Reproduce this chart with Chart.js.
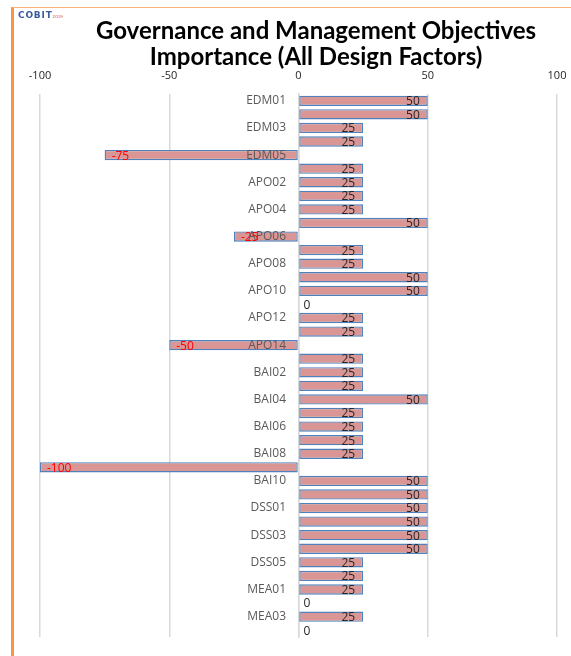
<!DOCTYPE html>
<html>
<head>
<meta charset="utf-8">
<script src="https://cdn.jsdelivr.net/npm/chart.js@4/dist/chart.umd.min.js"></script>
<style>
  html, body { margin: 0; padding: 0; background: #fff; overflow: hidden; width: 571px; height: 656px; }
  #frame { position: absolute; left: 11px; top: 7px; width: 640px; height: 680px;
           border-left: 3px solid #F79646; border-top: 1px solid #F9B27A; background: #fff; }
  #box { position: absolute; left: 1px; top: 0; width: 602px; height: 649px; }
  #logo { position: absolute; left: 4px; top: 2px; font: bold 9px "DejaVu Sans", sans-serif; color: #3A5BA0; letter-spacing: 0.8px; z-index: 2; }
  #logo span { color: #D05050; font-size: 4px; font-weight: normal; letter-spacing: 0; }
</style>
</head>
<body>
<div id="frame">
  <div id="logo">COBIT<span>2019</span></div>
  <div id="box"><canvas id="c"></canvas></div>
</div>
<script>
const categories = [
  "EDM01","EDM02","EDM03","EDM04","EDM05",
  "APO01","APO02","APO03","APO04","APO05","APO06","APO07","APO08","APO09","APO10","APO11","APO12","APO13","APO14",
  "BAI01","BAI02","BAI03","BAI04","BAI05","BAI06","BAI07","BAI08","BAI09","BAI10","BAI11",
  "DSS01","DSS02","DSS03","DSS04","DSS05","DSS06",
  "MEA01","MEA02","MEA03","MEA04"
];
const importance = [
  50, 50, 25, 25, -75,
  25, 25, 25, 25, 50, -25, 25, 25, 50, 50, 0, 25, 25, -50,
  25, 25, 25, 50, 25, 25, 25, 25, -100, 50, 50,
  50, 50, 50, 50, 25, 25,
  25, 0, 25, 0
];
const xTicks = [-100, -50, 0, 50, 100];
const titleLines = ["Governance and Management Objectives", "Importance (All Design Factors)"];

const FONT = '"Open Sans", Lato, sans-serif';

const valueLabels = {
  id: 'valueLabels',
  afterDatasetsDraw(chart) {
    const ctx = chart.ctx;
    const meta = chart.getDatasetMeta(0);
    ctx.save();
    ctx.font = '12px ' + FONT;
    ctx.textBaseline = 'middle';
    meta.data.forEach((bar, i) => {
      const v = importance[i];
      const y = bar.y + 1;
      if (v > 0) {
        ctx.fillStyle = '#262626';
        ctx.textAlign = 'right';
        ctx.fillText(String(v), bar.x - 8, y);
      } else if (v < 0) {
        ctx.fillStyle = '#FF0000';
        ctx.textAlign = 'left';
        ctx.fillText(String(v), bar.x + 7, y);
      } else {
        ctx.fillStyle = '#262626';
        ctx.textAlign = 'left';
        ctx.fillText('0', bar.x + 5, y);
      }
    });
    ctx.restore();
  }
};

function fixedWidth(w) { return function (axis) { axis.width = w; }; }

new Chart(document.getElementById('c'), {
  type: 'bar',
  data: {
    labels: categories,
    datasets: [{
      data: importance,
      backgroundColor: '#D99694',
      borderColor: '#4F81BD',
      borderWidth: 1.4,
      borderSkipped: false,
      categoryPercentage: 1.0,
      barPercentage: 0.76
    }]
  },
  options: {
    indexAxis: 'y',
    responsive: true,
    maintainAspectRatio: false,
    animation: false,
    layout: { padding: { left: 0, right: 0, top: 0, bottom: 20 } },
    plugins: {
      legend: { display: false },
      tooltip: { enabled: false },
      title: {
        display: true,
        text: titleLines,
        color: '#000',
        font: { family: 'Lato, "Open Sans", sans-serif', size: 24, weight: 'bold', lineHeight: 1.1 },
        padding: { top: 10, bottom: -14 }
      }
    },
    scales: {
      x: {
        position: 'top',
        min: -100, max: 100,
        afterBuildTicks(axis) { axis.ticks = xTicks.map(v => ({ value: v })); },
        grid: { color: '#D9D9D9', lineWidth: 1.5, drawTicks: false },
        border: { display: false },
        ticks: { color: '#262626', font: { family: FONT, size: 11 }, padding: 12, maxRotation: 0 }
      },
      y: {
        position: { x: 0 },
        grid: { display: false, drawTicks: false },
        border: { display: true, color: '#D9D9D9', width: 1.5 },
        ticks: {
          z: 1,
          autoSkip: false,
          color: '#595959',
          font: { family: FONT, size: 12 },
          callback(value, index) { return index % 2 === 0 ? categories[index] + '    ' : ''; }
        }
      },
      padL: {
        type: 'linear', position: 'left', display: true,
        grid: { display: false, drawTicks: false }, border: { display: false },
        ticks: { display: false },
        afterFit: fixedWidth(25)
      },
      padR: {
        type: 'linear', position: 'right', display: true,
        grid: { display: false, drawTicks: false }, border: { display: false },
        ticks: { display: false },
        afterFit: fixedWidth(60)
      }
    }
  },
  plugins: [valueLabels]
});
</script>
</body>
</html>
